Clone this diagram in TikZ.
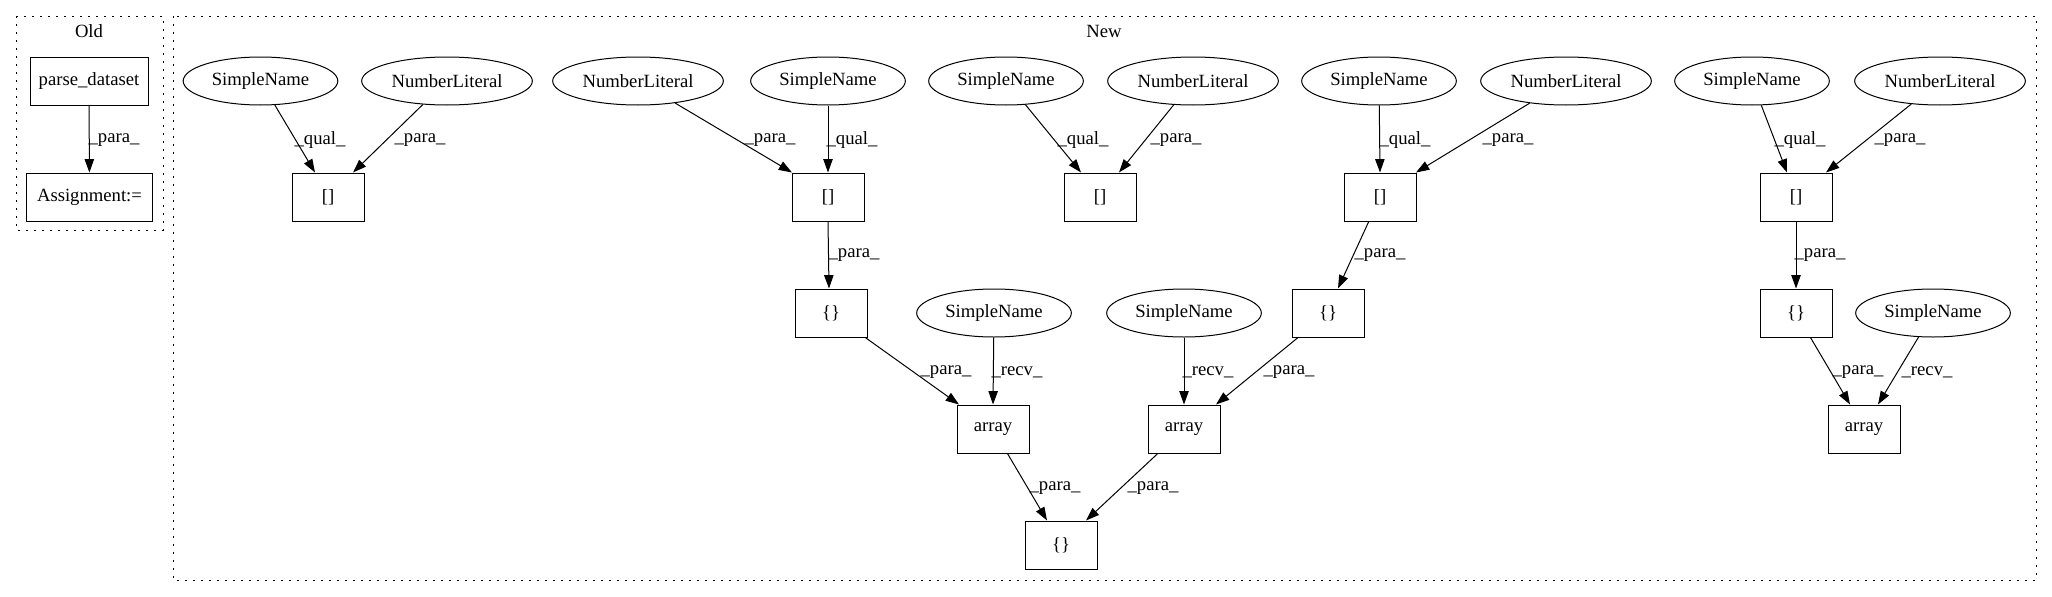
\documentclass[tikz,border=0pt]{standalone}
\usepackage{fontspec}
\setmainfont{Liberation Serif}
\usetikzlibrary{arrows.meta,calc,shapes.geometric}
\begin{document}
\begin{tikzpicture}[x=0.75pt,y=-0.75pt,
  every node/.style={font=\fontsize{14}{16}\selectfont, inner sep=0pt},
  boxnode/.style={draw, line width=0.75pt, rectangle, minimum width=54pt, minimum height=36pt},
  ellnode/.style={draw, line width=0.75pt, ellipse, minimum height=36pt},
  sname/.style={ellnode, minimum width=116pt},
  nlit/.style={ellnode, minimum width=128pt},
  conn/.style={draw, line width=0.75pt, -{Triangle[length=10pt,width=7pt]}},
  elabel/.style={anchor=center},
  cluster/.style={draw, line width=0.75pt, dash pattern=on 1.2pt off 4.8pt}
]
\useasboundingbox (0,0) rectangle (2052,596);

% clusters
\draw[cluster] (16,16) rectangle (163,230);
\node (oldlbl) at (89,31) {Old};
\draw[cluster] (173,16) rectangle (2036,580);
\node (newlbl) at (1104,31) {New};

% Old
\node[boxnode, minimum width=88.5pt] (pd) at (89,81) {parse\_dataset};
\node[boxnode, minimum width=94pt] (asg) at (89.5,197) {Assignment:=};
\draw[conn] (pd) -- (asg);
\node[elabel] (l0) at (114,140) {\_para\_};

% New top row
\node[sname] (sn1) at (260.5,81) {SimpleName};
\node[nlit]  (nl1) at (447,81) {NumberLiteral};
\node[nlit]  (nl2) at (638,81) {NumberLiteral};
\node[sname] (sn2) at (828,81) {SimpleName};
\node[sname] (sn3) at (1006,81) {SimpleName};
\node[nlit]  (nl3) at (1193,81) {NumberLiteral};
\node[sname] (sn4) at (1379,81) {SimpleName};
\node[nlit]  (nl4) at (1566,81) {NumberLiteral};
\node[sname] (sn5) at (1752,81) {SimpleName};
\node[nlit]  (nl5) at (1940,81) {NumberLiteral};

% rank 1
\node[boxnode] (bA) at (328,197) {[]};
\node[boxnode] (bB) at (828,197) {[]};
\node[boxnode] (bC) at (1100,197) {[]};
\node[boxnode] (bD) at (1380,197) {[]};
\node[boxnode] (bE) at (1796,197) {[]};

% rank 2
\node[boxnode] (cB) at (831,313) {\{\}};
\node[sname] (sn6) at (994,313) {SimpleName};
\node[sname] (sn7) at (1184,313) {SimpleName};
\node[boxnode] (cD) at (1328,313) {\{\}};
\node[boxnode] (cE) at (1796,313) {\{\}};
\node[sname] (sn8) at (1933,313) {SimpleName};

% rank 3
\node[boxnode] (ar1) at (993,429) {array};
\node[boxnode] (ar2) at (1184,429) {array};
\node[boxnode] (ar3) at (1864,429) {array};

% rank 4
\node[boxnode] (cBot) at (1061,545) {\{\}};

% edges top row
\draw[conn] (sn1) -- ($(bA.north)+(-13,0)$);
\draw[conn] (nl1) -- ($(bA.north)+(25,0)$);
\draw[conn] (nl2) -- ($(bB.north)+(-36,0)$);
\draw[conn] (sn2) -- (bB.north);
\draw[conn] (sn3) -- ($(bC.north)+(-19,0)$);
\draw[conn] (nl3) -- ($(bC.north)+(19,0)$);
\draw[conn] (sn4) -- (bD.north);
\draw[conn] (nl4) -- ($(bD.north)+(36,0)$);
\draw[conn] (sn5) -- ($(bE.north)+(-9,0)$);
\draw[conn] (nl5) -- ($(bE.north)+(30,0)$);

\node[elabel] (l1) at (320,140) {\_qual\_};
\node[elabel] (l2) at (420,140) {\_para\_};
\node[elabel] (l3) at (770,140) {\_para\_};
\node[elabel] (l4) at (852,140) {\_qual\_};
\node[elabel] (l5) at (1083,140) {\_qual\_};
\node[elabel] (l6) at (1176,140) {\_para\_};
\node[elabel] (l7) at (1405,140) {\_qual\_};
\node[elabel] (l8) at (1508,140) {\_para\_};
\node[elabel] (l9) at (1800,140) {\_qual\_};
\node[elabel] (l10) at (1900,140) {\_para\_};

% rank 1 -> 2
\draw[conn] (bB.south) -- ($(cB.north)+(-2,0)$);
\draw[conn] (bD) -- ($(cD.north)+(10,0)$);
\draw[conn] (bE) -- (cE);
\node[elabel] (l11) at (854,255) {\_para\_};
\node[elabel] (l12) at (1380,255) {\_para\_};
\node[elabel] (l13) at (1820,255) {\_para\_};

% rank 2 -> 3
\draw[conn] (cB) -- ($(ar1.north)+(-34,0)$);
\draw[conn] (sn6) -- (ar1.north);
\draw[conn] (sn7) -- (ar2.north);
\draw[conn] (cD) -- ($(ar2.north)+(32,0)$);
\draw[conn] (cE) -- ($(ar3.north)+(-14,0)$);
\draw[conn] (sn8) -- ($(ar3.north)+(14,0)$);
\node[elabel] (l14) at (946,372) {\_para\_};
\node[elabel] (l15) at (1017,372) {\_recv\_};
\node[elabel] (l16) at (1208,372) {\_recv\_};
\node[elabel] (l17) at (1289,372) {\_para\_};
\node[elabel] (l18) at (1858,372) {\_para\_};
\node[elabel] (l19) at (1927,372) {\_recv\_};

% rank 3 -> 4
\draw[conn] (ar1) -- ($(cBot.north)+(-14,0)$);
\draw[conn] (ar2) -- ($(cBot.north)+(25,0)$);
\node[elabel] (l20) at (1055,488) {\_para\_};
\node[elabel] (l21) at (1153,488) {\_para\_};
\end{tikzpicture}
\end{document}
